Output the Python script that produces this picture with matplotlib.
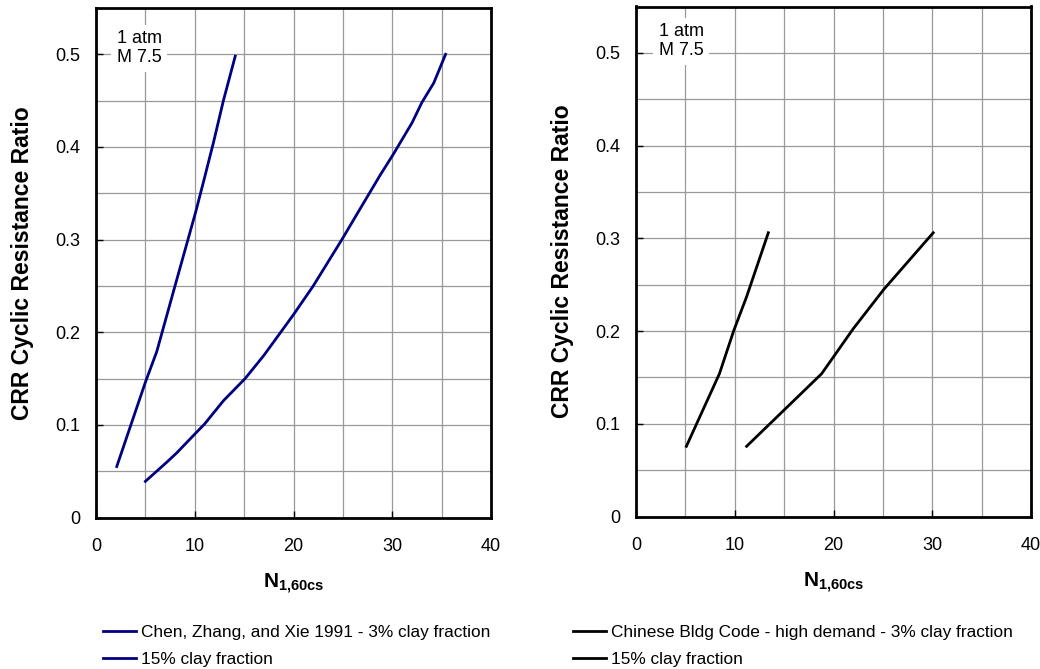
import matplotlib
matplotlib.use("Agg")
import matplotlib.pyplot as plt
from matplotlib.ticker import MultipleLocator, FuncFormatter

plt.rcParams["font.family"] = ["Liberation Sans", "DejaVu Sans"]
plt.rcParams["mathtext.fontset"] = "custom"
plt.rcParams["mathtext.rm"] = "Liberation Sans"
plt.rcParams["mathtext.bf"] = "Liberation Sans:bold"

# Chen, Zhang, and Xie 1991 (left panel)
chen_3_n = [5.0, 6.15, 7.2, 8.2, 10.0, 11.0, 12.9, 15.1, 17.0, 20.0, 22.0,
            24.9, 26.9, 28.8, 30.1, 32.0, 33.0, 34.2, 35.4]
chen_3_crr = [0.039, 0.05, 0.06, 0.07, 0.09, 0.101, 0.126, 0.15, 0.175, 0.219,
              0.25, 0.30, 0.336, 0.37, 0.392, 0.426, 0.448, 0.469, 0.5]
chen_15_n = [2.1, 5.0, 6.15, 8.0, 10.1, 10.9, 11.9, 12.9, 14.1]
chen_15_crr = [0.055, 0.146, 0.179, 0.25, 0.33, 0.363, 0.405, 0.45, 0.498]

# Chinese Bldg Code - high demand (right panel)
cbc_3_n = [11.2, 18.8, 22.0, 25.1, 30.1]
cbc_3_crr = [0.0757, 0.154, 0.2025, 0.245, 0.306]
cbc_15_n = [5.1, 8.45, 9.9, 11.2, 13.4]
cbc_15_crr = [0.0757, 0.154, 0.2005, 0.237, 0.306]

left_labels = ["Chen, Zhang, and Xie 1991 - 3% clay fraction", "15% clay fraction"]
right_labels = ["Chinese Bldg Code - high demand - 3% clay fraction", "15% clay fraction"]

fig = plt.figure(figsize=(10.4, 6.69), dpi=100)
ax1 = fig.add_axes([96 / 1040, 1 - 517.5 / 669, 395 / 1040, 509.5 / 669])
ax2 = fig.add_axes([636 / 1040, 1 - 516.5 / 669, 395 / 1040, 510 / 669])


def style(ax):
    ax.set_xlim(0, 40)
    ax.set_ylim(0, 0.55)
    ax.xaxis.set_major_locator(MultipleLocator(10))
    ax.xaxis.set_minor_locator(MultipleLocator(5))
    ax.yaxis.set_major_locator(MultipleLocator(0.1))
    ax.yaxis.set_minor_locator(MultipleLocator(0.05))
    ax.yaxis.set_major_formatter(FuncFormatter(lambda v, p: "0" if abs(v) < 1e-9 else f"{v:.1f}"))
    ax.grid(True, which="both", color="#999999", linewidth=0.9)
    ax.set_axisbelow(True)
    ax.tick_params(which="major", direction="in", length=5, width=1, labelsize=13)
    ax.tick_params(which="minor", length=0)
    ax.tick_params(axis="y", pad=11.5)
    ax.tick_params(axis="x", pad=15)
    for s in ax.spines.values():
        s.set_linewidth(2)
        s.set_color("black")
    ax.set_ylabel("CRR Cyclic Resistance Ratio", fontsize=16.5, fontweight="bold", labelpad=15)
    ax.set_xlabel(r"$\mathbf{N_{1{,}60cs}}$", fontsize=15, labelpad=12)


style(ax1)
style(ax2)

l1, = ax1.plot(chen_3_n, chen_3_crr, color="#000080", lw=2)
l2, = ax1.plot(chen_15_n, chen_15_crr, color="#000080", lw=2)
r1, = ax2.plot(cbc_3_n, cbc_3_crr, color="black", lw=2)
r2, = ax2.plot(cbc_15_n, cbc_15_crr, color="black", lw=2)

ax1.text(2.1, 0.526, "1 atm\nM 7.5", fontsize=13, va="top", ha="left",
         linespacing=1.15, bbox=dict(facecolor="white", edgecolor="none", pad=4))
ax2.text(2.3, 0.532, "1 atm\nM 7.5", fontsize=13, va="top", ha="left",
         linespacing=1.15, bbox=dict(facecolor="white", edgecolor="none", pad=4))

leg_kw = dict(loc="upper left", frameon=False, fontsize=12.45, handlelength=1.9,
              handletextpad=0.3, labelspacing=0.68, borderpad=0, borderaxespad=0)
fig.legend([l1, l2], left_labels, bbox_to_anchor=(103 / 1040, 1 - 625 / 669), **leg_kw)
fig.legend([r1, r2], right_labels, bbox_to_anchor=(573 / 1040, 1 - 625 / 669), **leg_kw)

fig.savefig("out.png", dpi=100)
